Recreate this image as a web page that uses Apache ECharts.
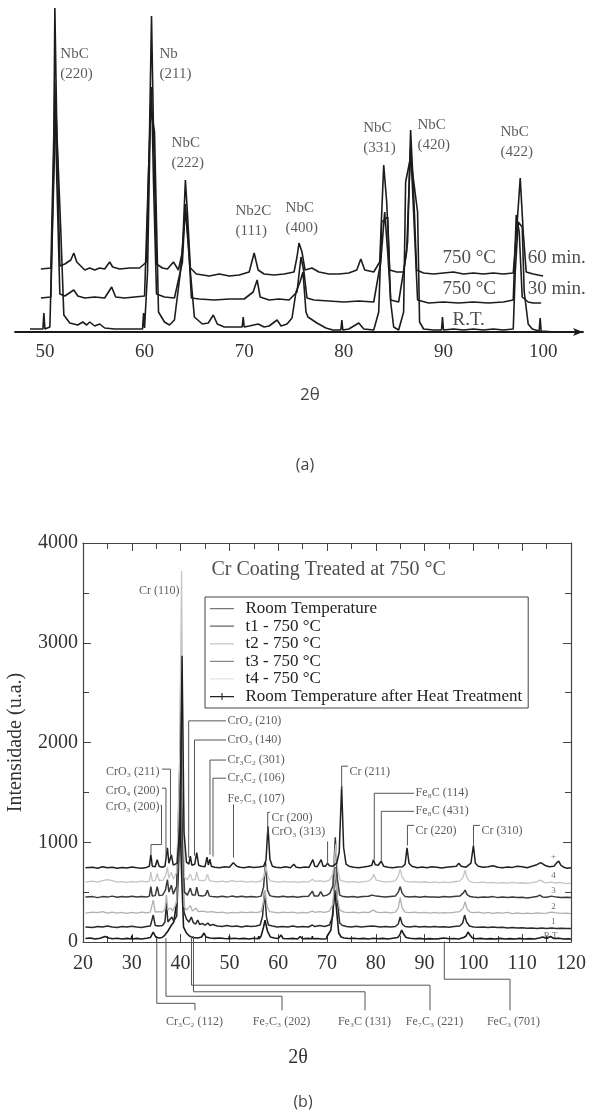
<!DOCTYPE html>
<html>
<head>
<meta charset="utf-8">
<script src="https://cdn.jsdelivr.net/npm/echarts@6/dist/echarts.min.js"></script>
<style>
html, body { margin: 0; padding: 0; background: #fff; }
#chart { width: 607px; height: 1113px; }
</style>
</head>
<body>
<div id="chart"></div>
<script>
// ---- panel (a): NbC coating, traces in arbitrary units (height above the axis)
var nbTicks = [50, 60, 70, 80, 90, 100];

var nb60min = [[49.6,63],[50.6,64],[50.9,200],[51.0,324],[51.2,200],[51.5,66],[52.0,68],[52.6,72],[52.9,79],[53.2,70],[53.6,66],[54.0,62],[54.5,64],[55.0,62],[55.5,64],[56.0,63],[56.5,70],[56.8,65],[57.5,63],[58.5,64],[59.5,64],[60.2,70],[60.5,200],[60.7,316],[60.9,200],[61.2,68],[61.8,64],[62.3,63],[62.9,70],[63.4,62],[63.8,80],[64.1,152],[64.3,120],[64.6,64],[65.2,58],[66.5,56],[67.5,58],[68.5,56],[69.5,57],[70.5,60],[71.0,79],[71.4,62],[72.0,58],[73.0,57],[74.0,58],[75.0,60],[75.3,75],[75.5,89],[75.8,80],[76.1,62],[76.8,64],[77.5,60],[78.5,58],[79.5,58],[80.5,59],[81.3,62],[81.7,73],[82.1,62],[83.0,60],[83.6,70],[84.0,167],[84.3,130],[84.6,62],[85.3,60],[86.0,60],[86.4,90],[86.7,202],[87.0,140],[87.3,62],[88.0,59],[89.0,58],[90.0,59],[91.0,60],[92.0,58],[93.0,59],[94.0,58],[95.0,59],[96.0,58],[97.0,59],[97.4,110],[97.7,154],[98.0,100],[98.3,60],[99.0,58],[100.0,56]];

var nb30min = [[49.6,34],[50.6,35],[50.9,180],[51.0,250],[51.2,150],[51.5,38],[52.0,36],[52.9,42],[53.3,36],[54.0,34],[55.0,35],[56.0,34],[56.7,45],[57.1,35],[58.0,34],[59.0,35],[60.0,36],[60.4,160],[60.7,245],[60.9,150],[61.2,38],[62.0,35],[63.0,34],[63.8,70],[64.1,128],[64.4,90],[64.7,34],[65.5,33],[67.0,32],[68.5,33],[70.0,33],[70.9,40],[71.3,52],[71.6,35],[72.5,32],[73.5,33],[74.5,32],[75.3,40],[75.7,75],[76.0,60],[76.3,34],[77.0,32],[78.5,31],[80.0,30],[81.5,31],[83.0,30],[83.7,70],[84.1,120],[84.4,80],[84.7,32],[85.5,30],[86.3,80],[86.7,185],[87.0,120],[87.4,32],[88.5,29],[90.0,30],[91.5,29],[93.0,30],[94.5,29],[96.0,30],[97.0,32],[97.3,117],[97.6,100],[97.9,35],[98.5,30],[99.0,29],[99.8,29]];

var nbRT = [[48.5,3],[49.8,3],[49.9,19],[50.0,3],[50.5,5],[50.8,120],[51.1,225],[51.6,100],[51.9,17],[52.5,9],[53.3,7],[53.8,10],[54.2,7],[54.5,10],[55.0,6],[55.5,8],[56.0,4],[57.0,3],[58.0,3],[59.0,3],[59.8,3],[59.9,19],[60.0,4],[60.3,60],[60.6,225],[61.0,200],[61.4,20],[62.0,10],[62.5,7],[63.0,12],[63.6,60],[64.1,122],[64.6,60],[65.0,15],[65.8,8],[66.4,9],[66.9,17],[67.3,8],[68.0,5],[69.0,5],[69.8,5],[69.9,15],[70.0,5],[70.5,6],[71.4,8],[72.0,5],[72.5,6],[73.3,12],[73.7,6],[74.3,8],[74.8,14],[75.2,40],[75.6,50],[75.9,60],[76.2,20],[76.4,15],[77.3,9],[78.2,4],[78.9,2],[79.7,2],[79.8,12],[79.9,2],[80.5,3],[81.5,9],[82.0,3],[83.0,2],[83.5,20],[83.8,110],[84.4,115],[84.7,30],[85.0,5],[85.5,2],[86.0,20],[86.2,150],[86.7,175],[87.4,120],[87.6,10],[88.0,3],[89.0,2],[89.8,2],[89.9,15],[90.0,2],[91.0,3],[92.0,2],[93.0,3],[94.0,2],[95.0,3],[96.0,2],[97.0,3],[97.2,60],[97.5,110],[97.9,105],[98.1,40],[98.5,8],[98.9,3],[99.6,1],[99.7,14],[99.8,1],[101.2,0]];

var nbPeakNames = ['NbC\n(220)', 'Nb\n(211)', 'NbC\n(222)', 'Nb2C\n(111)', 'NbC\n(400)', 'NbC\n(331)', 'NbC\n(420)', 'NbC\n(422)'];
var nbPeakLabelPos = [[51.6,267],[61.55,267],[62.76,178],[69.18,110],[74.2,113],[82.0,193],[87.44,196],[95.77,189]];
var nbTraceNames = ['750 °C', '60 min.', '750 °C', '30 min.', 'R.T.'];
var nbTraceLabelPos = [[89.95,73],[98.5,73],[89.95,42],[98.5,42],[90.95,11]];

// ---- panel (b): Cr coating
var crSeriesNames = ['Room Temperature', 't1 - 750 °C', 't2 - 750 °C', 't3 - 750 °C', 't4 - 750 °C', 'Room Temperature after Heat Treatment'];

var crRT = [[20.5,35],[21.5,40],[22.5,30],[23.5,38],[24.5,55],[25.3,40],[26,32],[27,38],[28,30],[29,36],[29.9,30],[30.0,65],[30.1,30],[31,36],[32,30],[33,38],[33.8,45],[34.4,100],[34.9,50],[35.6,40],[36.2,45],[36.8,70],[37.4,110],[38.0,160],[38.6,200],[39.2,400],[39.8,1400],[40.2,700],[40.6,150],[41.2,90],[41.8,60],[42.5,45],[43.5,40],[44.3,50],[44.8,90],[45.2,50],[46,40],[47,36],[48,40],[49,35],[49.9,32],[50.0,60],[50.1,32],[51,38],[52,32],[53,36],[54,30],[55,38],[55.9,32],[56.0,60],[56.1,32],[56.5,60],[57.0,150],[57.3,220],[57.8,110],[58.4,50],[59.2,40],[60,35],[60.6,70],[61,35],[62,32],[63,36],[64,30],[64.5,55],[65,32],[66,36],[66.9,32],[67.0,60],[67.1,32],[68,35],[69,30],[69.9,32],[70.0,55],[70.3,40],[70.8,120],[71.3,350],[71.6,520],[72.0,300],[72.4,90],[72.9,50],[73.5,40],[74.5,35],[75.5,38],[76.5,32],[77.5,36],[78.5,30],[79.5,38],[80.5,32],[81.5,36],[82.5,30],[83.5,38],[84.5,45],[84.9,70],[85.3,120],[85.7,80],[86.2,45],[87,38],[88,32],[89,36],[90,30],[91,34],[92,30],[93,34],[94.0,40],[95,32],[96,35],[97,30],[98,45],[98.5,60],[98.9,100],[99.3,70],[99.8,40],[100.5,32],[101.5,36],[102.5,30],[103.5,34],[104.5,30],[105.5,36],[106.5,30],[107.5,34],[108.5,30],[109.5,36],[110.5,30],[111.5,34],[112.5,30],[113.5,40],[114.2,50],[115,35],[115.8,55],[116.5,35],[117.5,38],[118.5,30],[119.5,32],[120,30]];

var crT1 = [[20.5,150],[22,145],[23,155],[24,150],[25,160],[26,150],[27,145],[28,155],[29,150],[30,158],[31,150],[32,145],[33,155],[33.8,160],[34.4,270],[34.8,165],[35.5,160],[36.3,165],[36.8,200],[37.1,390],[37.4,200],[37.8,190],[38.2,250],[38.6,210],[39.2,260],[39.7,900],[40.0,2000],[40.3,900],[40.7,300],[41.2,230],[41.7,200],[42.2,250],[42.6,195],[43.1,180],[43.5,220],[43.9,175],[44.5,185],[45.0,170],[45.6,190],[46.0,165],[46.6,175],[47.5,160],[48.5,155],[49.5,165],[50.5,155],[51.5,160],[52.5,150],[53.5,160],[54.5,155],[55.5,160],[56.3,170],[56.8,260],[57.2,505],[57.6,250],[58.0,170],[58.8,160],[59.8,150],[60.8,155],[62,150],[63,160],[64,150],[65,155],[66.2,150],[67.0,170],[67.5,155],[68.5,165],[69.5,155],[70.5,170],[71.2,260],[71.7,750],[72.1,420],[72.6,190],[73.2,165],[74,155],[75,150],[76,158],[77,150],[78,155],[79.3,160],[79.7,175],[80.2,155],[81,150],[82,155],[83,150],[84.0,155],[84.6,180],[85.0,250],[85.4,180],[86,155],[87,150],[88,158],[89,150],[90,155],[91,150],[92,155],[93,150],[94,152],[95,148],[96,155],[97.2,160],[97.8,190],[98.2,270],[98.6,200],[99.2,160],[100,150],[101,148],[102,150],[103,145],[104,150],[105,145],[106,148],[107,140],[108,145],[109,140],[110,142],[111,138],[112,140],[113,135],[114,140],[115,135],[116,140],[117,135],[118,138],[119,135],[120,135]];

var crT2 = [[20.5,290],[22,300],[23,295],[24,305],[25,290],[26,300],[27,290],[28,298],[29,288],[30,296],[31,290],[32,300],[33,292],[33.8,300],[34.4,420],[34.8,300],[35.5,305],[36.3,300],[36.8,330],[37.1,470],[37.4,320],[38.0,340],[38.4,310],[39.2,400],[39.7,1400],[40.0,2600],[40.3,1100],[40.7,360],[41.2,320],[42.0,365],[42.4,310],[43.2,340],[43.6,305],[44.5,310],[45.5,300],[46.5,305],[47.5,295],[48.5,300],[49.5,290],[50.5,298],[51.5,292],[52.5,300],[53.5,295],[54.5,300],[55.5,295],[56.5,305],[56.9,380],[57.3,520],[57.7,360],[58.2,305],[59,300],[60,292],[61,300],[62,295],[63,300],[64,290],[65,298],[66,292],[67,310],[67.5,298],[68.5,305],[69.5,296],[70.5,310],[71.2,380],[71.7,740],[72.1,450],[72.6,320],[73.5,300],[74.5,295],[75.5,300],[76.5,292],[77.5,300],[78.5,295],[79.5,320],[80.2,300],[81,295],[82,300],[83,292],[84.0,300],[84.6,340],[85.0,445],[85.4,340],[86,300],[87,295],[88,300],[89,292],[90,298],[91,290],[92,296],[93,290],[94,295],[95,292],[96,298],[97.2,305],[97.9,340],[98.3,405],[98.7,330],[99.3,300],[100,295],[101,300],[102,290],[103,296],[104,288],[105,295],[106,290],[107,296],[108,285],[109,292],[110,285],[111,290],[112,285],[113,292],[114,286],[115,290],[116,300],[117,292],[118,286],[119,290],[120,285]];

var crT3 = [[20.5,450],[22,455],[23,445],[24,455],[25,450],[26,460],[27,448],[28,455],[29,450],[30,458],[31,450],[32,455],[33,450],[33.6,460],[33.9,555],[34.2,460],[34.8,465],[35.2,555],[35.6,465],[36.3,470],[36.9,520],[37.3,625],[37.6,500],[38.1,570],[38.5,480],[39.2,560],[39.7,1500],[40.1,2300],[40.4,1000],[40.8,500],[41.4,470],[42.0,540],[42.4,470],[43.0,470],[43.3,550],[43.7,465],[44.5,460],[45.1,470],[45.5,520],[45.9,460],[46.5,455],[47.5,450],[48.5,458],[49.5,450],[50.5,460],[51.5,452],[52.5,458],[53.5,450],[54.5,455],[55.5,450],[56.5,460],[57.0,550],[57.4,800],[57.8,520],[58.3,465],[59,455],[60,450],[61,458],[62,450],[63,455],[64,448],[65,455],[66.2,458],[67.0,510],[67.4,460],[68.2,460],[68.7,505],[69.2,460],[70.0,470],[70.6,490],[71.2,560],[71.7,1050],[72.1,640],[72.6,470],[73.3,455],[74.3,450],[75.3,455],[76.3,448],[77.3,455],[78.5,458],[79.2,470],[79.6,490],[80.1,460],[81,455],[82,450],[83,455],[84.0,460],[84.6,500],[85.0,555],[85.4,490],[86,455],[87,450],[88,455],[89,448],[90,455],[91,450],[92,452],[93,448],[94,455],[95,450],[96,456],[97.2,460],[97.9,490],[98.3,520],[98.7,475],[99.3,455],[100,450],[101,445],[102,452],[103,448],[104,455],[105,445],[106,450],[107,445],[108,450],[109,445],[110,448],[111,442],[112,448],[113,455],[113.6,470],[114.2,450],[115,448],[116,460],[117,450],[118,445],[119,448],[120,445]];

var crT4 = [[20.5,600],[22,610],[23,600],[24,615],[25,625],[26,615],[27,600],[28,605],[29,598],[30,606],[31,600],[32,610],[33,602],[33.6,610],[33.9,700],[34.2,612],[34.8,615],[35.2,690],[35.6,615],[36.4,620],[36.9,660],[37.3,750],[37.6,640],[38.1,700],[38.5,630],[39.2,700],[39.8,1800],[40.2,3720],[40.5,1500],[40.8,650],[41.4,625],[42.0,680],[42.4,620],[43.0,625],[43.3,700],[43.7,620],[44.5,615],[45.1,620],[45.5,680],[45.9,615],[46.5,610],[47.5,602],[48.5,610],[49.5,600],[50.5,615],[51.5,605],[52.5,610],[53.5,600],[54.5,608],[55.5,600],[56.5,612],[57.1,660],[57.5,760],[57.9,650],[58.4,612],[59.2,605],[60.2,600],[61.2,608],[62.2,600],[63.2,606],[64.2,598],[65.2,605],[66.2,600],[67.0,630],[67.5,608],[68.5,612],[69.5,605],[70.5,620],[71.2,680],[71.8,980],[72.2,720],[72.7,620],[73.5,608],[74.5,600],[75.5,606],[76.5,598],[77.5,605],[78.5,610],[79.2,640],[79.6,680],[80.1,620],[81,610],[82,600],[83,606],[84.0,612],[84.6,660],[85.0,730],[85.4,650],[86,610],[87,600],[88,606],[89,598],[90,604],[91,596],[92,602],[93,595],[94,600],[95,596],[96,604],[97.2,610],[97.9,650],[98.3,720],[98.7,640],[99.3,605],[100,598],[101,596],[102,600],[103,592],[104,598],[105,590],[106,596],[107,590],[108,598],[109,590],[110,594],[111,588],[112,595],[113,605],[113.8,620],[114.5,598],[115,592],[116,600],[116.8,590],[117.5,598],[118.5,590],[119.2,585],[120,590]];

var crRTafter = [[20.5,745],[22,750],[23,740],[24,755],[25,745],[26,750],[27,740],[28,748],[29,742],[30,752],[31,745],[32,740],[33,748],[33.6,760],[33.9,875],[34.2,760],[34.8,755],[35.2,825],[35.6,760],[36.2,750],[36.8,760],[37.3,945],[37.6,790],[38.1,875],[38.5,770],[39.3,790],[39.9,1200],[40.3,2870],[40.7,1100],[41.2,800],[41.7,780],[42.0,860],[42.3,770],[42.9,780],[43.3,895],[43.7,770],[44.3,760],[45.0,755],[45.4,850],[45.7,770],[46.0,830],[46.3,760],[47,750],[48,745],[49,755],[50,750],[50.8,795],[51.5,760],[52.2,750],[53,745],[54,755],[55,748],[56,752],[57,760],[57.5,820],[57.9,1160],[58.3,830],[58.8,760],[59.5,750],[60.5,745],[61.5,755],[62.5,745],[63.2,780],[63.7,750],[64.5,745],[65.5,752],[66.3,748],[67.1,825],[67.5,760],[68.0,755],[68.8,825],[69.2,760],[69.7,760],[70.1,790],[70.5,765],[71.2,760],[72.0,790],[72.5,900],[73.0,1560],[73.4,950],[73.9,780],[74.5,760],[75.5,750],[76.5,745],[77.5,752],[78.5,760],[79.2,770],[79.5,825],[79.9,775],[80.5,770],[81.1,810],[81.6,760],[82.5,750],[83.5,745],[84.5,752],[85.5,755],[86.0,780],[86.4,945],[86.8,790],[87.4,760],[88.5,745],[89.5,752],[90.5,745],[91.5,755],[92.5,750],[93.5,742],[94.5,750],[95.5,755],[96.5,760],[97.0,790],[97.5,760],[98.5,750],[99.5,790],[100.0,967],[100.4,790],[101,760],[102,750],[103,755],[104,765],[105,750],[106,745],[107,752],[108,748],[109,760],[110,755],[111,745],[112,760],[113,775],[113.8,795],[114.6,770],[115.5,755],[116.5,760],[117.0,790],[117.5,810],[117.9,770],[118.5,750],[119.2,740],[120,745]];

// peak labels above the traces (anchor = text edge, in 2θ / intensity units)
var crPeakNames = ['Cr (110)', 'CrO₃ (211)', 'CrO₄ (200)', 'CrO₃ (200)', 'CrO₂ (210)', 'CrO₃ (140)', 'Cr₃C₂ (301)', 'Cr₃C₂ (106)', 'Fe₇C₃ (107)', 'Cr (200)', 'CrO₃ (313)', 'Cr (211)', 'Fe₈C (114)', 'Fe₈C (431)', 'Cr (220)', 'Cr (310)'];
var crPeakLabelPos = [[39.88,3516],[35.78,1703],[35.78,1511],[35.78,1350],[49.71,2217],[49.71,2025],[49.71,1824],[49.71,1642],[49.71,1431],[58.73,1239],[58.73,1098],[74.71,1703],[88.24,1491],[88.24,1310],[88.24,1108],[101.76,1108]];
var crPeakLabelAlign = ['right','right','right','right','left','left','left','left','left','left','left','left','left','left','left','left'];
var crPeakLeaders = [
  null,
  [[36.19,1733],[37.93,1733],[37.93,877]],
  [[36.19,1542],[37.0,1542],[37.0,856]],
  [[35.9,1370],[36.09,1370],[36.09,977],[33.93,977],[33.93,877]],
  [[49.3,2217],[41.66,2217],[41.66,846]],
  [[49.3,2025],[42.85,2025],[42.85,866]],
  [[49.3,1824],[46.02,1824],[46.02,877]],
  [[49.3,1642],[46.64,1642],[46.64,856]],
  [[50.84,1380],[50.84,846]],
  [[58.32,1300],[57.85,1300],[57.85,1078]],
  [[70.12,1008],[70.12,776]],
  [[74.3,1763],[73.0,1763],[73.0,1531]],
  [[87.83,1491],[79.69,1491],[79.69,826]],
  [[87.83,1310],[81.13,1310],[81.13,806]],
  [[87.83,1169],[86.48,1169],[86.48,967]],
  [[101.35,1169],[100.02,1169],[100.02,967]]
];

// peak labels below the axis
var crLowNames = ['Cr₃C₂ (112)', 'Fe₇C₃ (202)', 'Fe₃C (131)', 'Fe₇C₃ (221)', 'FeC₃ (701)'];
var crLowLabelPos = [[42.95,-806],[60.78,-806],[77.79,-806],[92.13,-806],[108.32,-806]];
var crLowLeaders = [
  [[42.95,-685],[42.95,-615],[35.12,-615],[35.12,40]],
  [[60.78,-685],[60.78,-544],[37.0,-544],[37.0,40]],
  [[77.79,-685],[77.79,-499],[42.64,-499],[42.64,60]],
  [[91.11,-685],[91.11,-433],[42.23,-433],[42.23,60]],
  [[107.5,-685],[107.5,-373],[94.04,-373],[94.04,5]]
];

var crTraceTags = ['+', '4', '3', '2', '1', 'R.T.'];
var crTraceTagPos = [[116.5,846],[116.5,665],[116.5,514],[116.5,353],[116.5,202],[116.1,60]];

var serif = '"Liberation Serif", "DejaVu Serif", serif';
var sans = '"Open Sans", "Noto Sans", sans-serif';

function textSeries(xi, yi, names, pos, aligns, size, color, lh) {
  var data = [];
  for (var i = 0; i < names.length; i++) {
    data.push({
      value: pos[i],
      label: { formatter: names[i], align: Array.isArray(aligns) ? aligns[i] : aligns }
    });
  }
  return {
    type: 'scatter', xAxisIndex: xi, yAxisIndex: yi, silent: true, clip: false,
    symbolSize: 1, itemStyle: { color: 'rgba(0,0,0,0)' },
    label: {
      show: true, position: [0, 0], verticalAlign: 'middle',
      fontFamily: serif, fontSize: size, color: color, lineHeight: lh || size
    },
    data: data, z: 5
  };
}

function leaderSeries(list) {
  var data = [];
  list.forEach(function (c) { if (c) data.push({ coords: c }); });
  return {
    type: 'lines', coordinateSystem: 'cartesian2d', xAxisIndex: 1, yAxisIndex: 1,
    polyline: true, silent: true, clip: false,
    lineStyle: { color: '#555', width: 1, opacity: 1 },
    data: data, z: 4
  };
}

var chart = echarts.init(document.getElementById('chart'));

var crColors = ['#1a1a1a', '#2b2b2b', '#b0b0b0', '#3a3a3a', '#c4c4c4', '#202020'];
var crWidths = [1.6, 1.5, 1.3, 1.5, 1.3, 1.5];
var crLegendColors = ['#777', '#666', '#cfcfcf', '#888', '#e4e4e4', '#222'];
var crData = [crRT, crT1, crT2, crT3, crT4, crRTafter];

var series = [];
[nbRT, nb30min, nb60min].forEach(function (d, i) {
  series.push({
    name: 'a' + i, type: 'line', xAxisIndex: 0, yAxisIndex: 0, data: d,
    symbol: 'none', silent: true,
    lineStyle: { color: '#1c1c1c', width: 1.6 }
  });
});
crData.forEach(function (d, i) {
  series.push({
    name: crSeriesNames[i], type: 'line', xAxisIndex: 1, yAxisIndex: 1, data: d,
    symbol: 'none', silent: true, color: crColors[i],
    lineStyle: { color: crColors[i], width: crWidths[i] }
  });
});
series.push(textSeries(0, 0, nbPeakNames, nbPeakLabelPos, 'left', 15, '#333', 20));
series.push(textSeries(0, 0, nbTraceNames, nbTraceLabelPos, 'left', 19, '#222'));
series.push(leaderSeries(crPeakLeaders));
series.push(leaderSeries(crLowLeaders));
series.push(textSeries(1, 1, crPeakNames, crPeakLabelPos, crPeakLabelAlign, 12, '#333'));
series.push(textSeries(1, 1, crLowNames, crLowLabelPos, 'center', 12, '#333'));
series.push(textSeries(1, 1, crTraceTags, crTraceTagPos, 'center', 9, '#444'));
series.push(textSeries(1, 1, ['Cr Coating Treated at 750 °C'], [[46.43,3728]], 'left', 20, '#222'));

// legend icons: a thin line (the tiny corner triangles only fix the icon's bounding box)
var lineIcon = 'path://M0,0L0.1,0L0,0.1Z M0,9H40V11.2H0Z M0,20L0.1,20L0,19.9Z';
var crossIcon = 'path://M0,0L0.1,0L0,0.1Z M0,9H40V11.2H0Z M19.1,4H20.9V16H19.1Z M0,20L0.1,20L0,19.9Z';
var legendData = crSeriesNames.map(function (n, i) {
  return { name: n, icon: i === 5 ? crossIcon : lineIcon, itemStyle: { color: crLegendColors[i] } };
});

var option = {
  animation: false,
  backgroundColor: '#fff',
  grid: [
    { left: 15, top: 0, width: 568, height: 332, outerBoundsMode: 'none' },
    { left: 83, top: 543, width: 488, height: 399, outerBoundsMode: 'none' }
  ],
  legend: {
    data: legendData, orient: 'vertical', left: 205, top: 597,
    padding: [3, 6, 3, 5], itemGap: 0.6, itemWidth: 37, itemHeight: 12,
    borderColor: '#444', borderWidth: 1, backgroundColor: '#fff',
    selectedMode: false,
    textStyle: { fontFamily: serif, fontSize: 17, color: '#222', lineHeight: 17 }
  },
  xAxis: [
    {
      gridIndex: 0, type: 'value', min: 47, max: 104,
      splitLine: { show: false }, axisTick: { show: false },
      axisLine: { lineStyle: { color: '#1a1a1a', width: 1.8 }, symbol: ['none', 'arrow'], symbolSize: [6, 10] },
      axisLabel: { customValues: nbTicks, fontFamily: serif, fontSize: 19, color: '#333', margin: 11 }
    },
    {
      gridIndex: 1, type: 'value', min: 20, max: 120, interval: 10, position: 'bottom',
      splitLine: { show: false },
      axisLine: { onZero: false, lineStyle: { color: '#444', width: 1.2 } },
      axisTick: { inside: true, length: 8, lineStyle: { color: '#444' } },
      minorTick: { show: true, splitNumber: 2, length: 6, lineStyle: { color: '#444' } },
      axisLabel: { fontFamily: serif, fontSize: 20, color: '#333', margin: 12 }
    },
    {
      gridIndex: 1, type: 'value', min: 20, max: 120, interval: 10, position: 'top',
      splitLine: { show: false },
      axisLine: { onZero: false, lineStyle: { color: '#444', width: 1.2 } },
      axisTick: { inside: true, length: 8, lineStyle: { color: '#444' } },
      minorTick: { show: true, splitNumber: 2, length: 6, lineStyle: { color: '#444' } },
      axisLabel: { show: false }
    }
  ],
  yAxis: [
    { gridIndex: 0, type: 'value', min: 0, max: 332, show: false },
    {
      gridIndex: 1, type: 'value', min: 0, max: 4000, interval: 1000, position: 'left',
      name: 'Intensidade (u.a.)', nameLocation: 'middle', nameGap: 57, nameRotate: 90,
      nameTextStyle: { fontFamily: serif, fontSize: 20, color: '#333' },
      splitLine: { show: false },
      axisLine: { onZero: false, lineStyle: { color: '#444', width: 1.2 } },
      axisTick: { inside: true, length: 8, lineStyle: { color: '#444' } },
      minorTick: { show: true, splitNumber: 2, length: 6, lineStyle: { color: '#444' } },
      axisLabel: { fontFamily: serif, fontSize: 20, color: '#333', margin: 5, formatter: function (v) { return String(v); } }
    },
    {
      gridIndex: 1, type: 'value', min: 0, max: 4000, interval: 1000, position: 'right',
      splitLine: { show: false },
      axisLine: { onZero: false, lineStyle: { color: '#444', width: 1.2 } },
      axisTick: { inside: true, length: 8, lineStyle: { color: '#444' } },
      minorTick: { show: true, splitNumber: 2, length: 6, lineStyle: { color: '#444' } },
      axisLabel: { show: false }
    }
  ],
  graphic: [
    { type: 'text', x: 310, y: 395, style: { text: '2θ', font: '17px ' + sans, fill: '#444', textAlign: 'center', textVerticalAlign: 'middle' } },
    { type: 'text', x: 305, y: 465, style: { text: '(a)', font: '16px ' + sans, fill: '#444', textAlign: 'center', textVerticalAlign: 'middle' } },
    { type: 'text', x: 298, y: 1058, style: { text: '2θ', font: '20px ' + serif, fill: '#333', textAlign: 'center', textVerticalAlign: 'middle' } },
    { type: 'text', x: 303, y: 1102, style: { text: '(b)', font: '16px ' + sans, fill: '#444', textAlign: 'center', textVerticalAlign: 'middle' } }
  ],
  series: series
};

chart.setOption(option);
</script>
</body>
</html>
